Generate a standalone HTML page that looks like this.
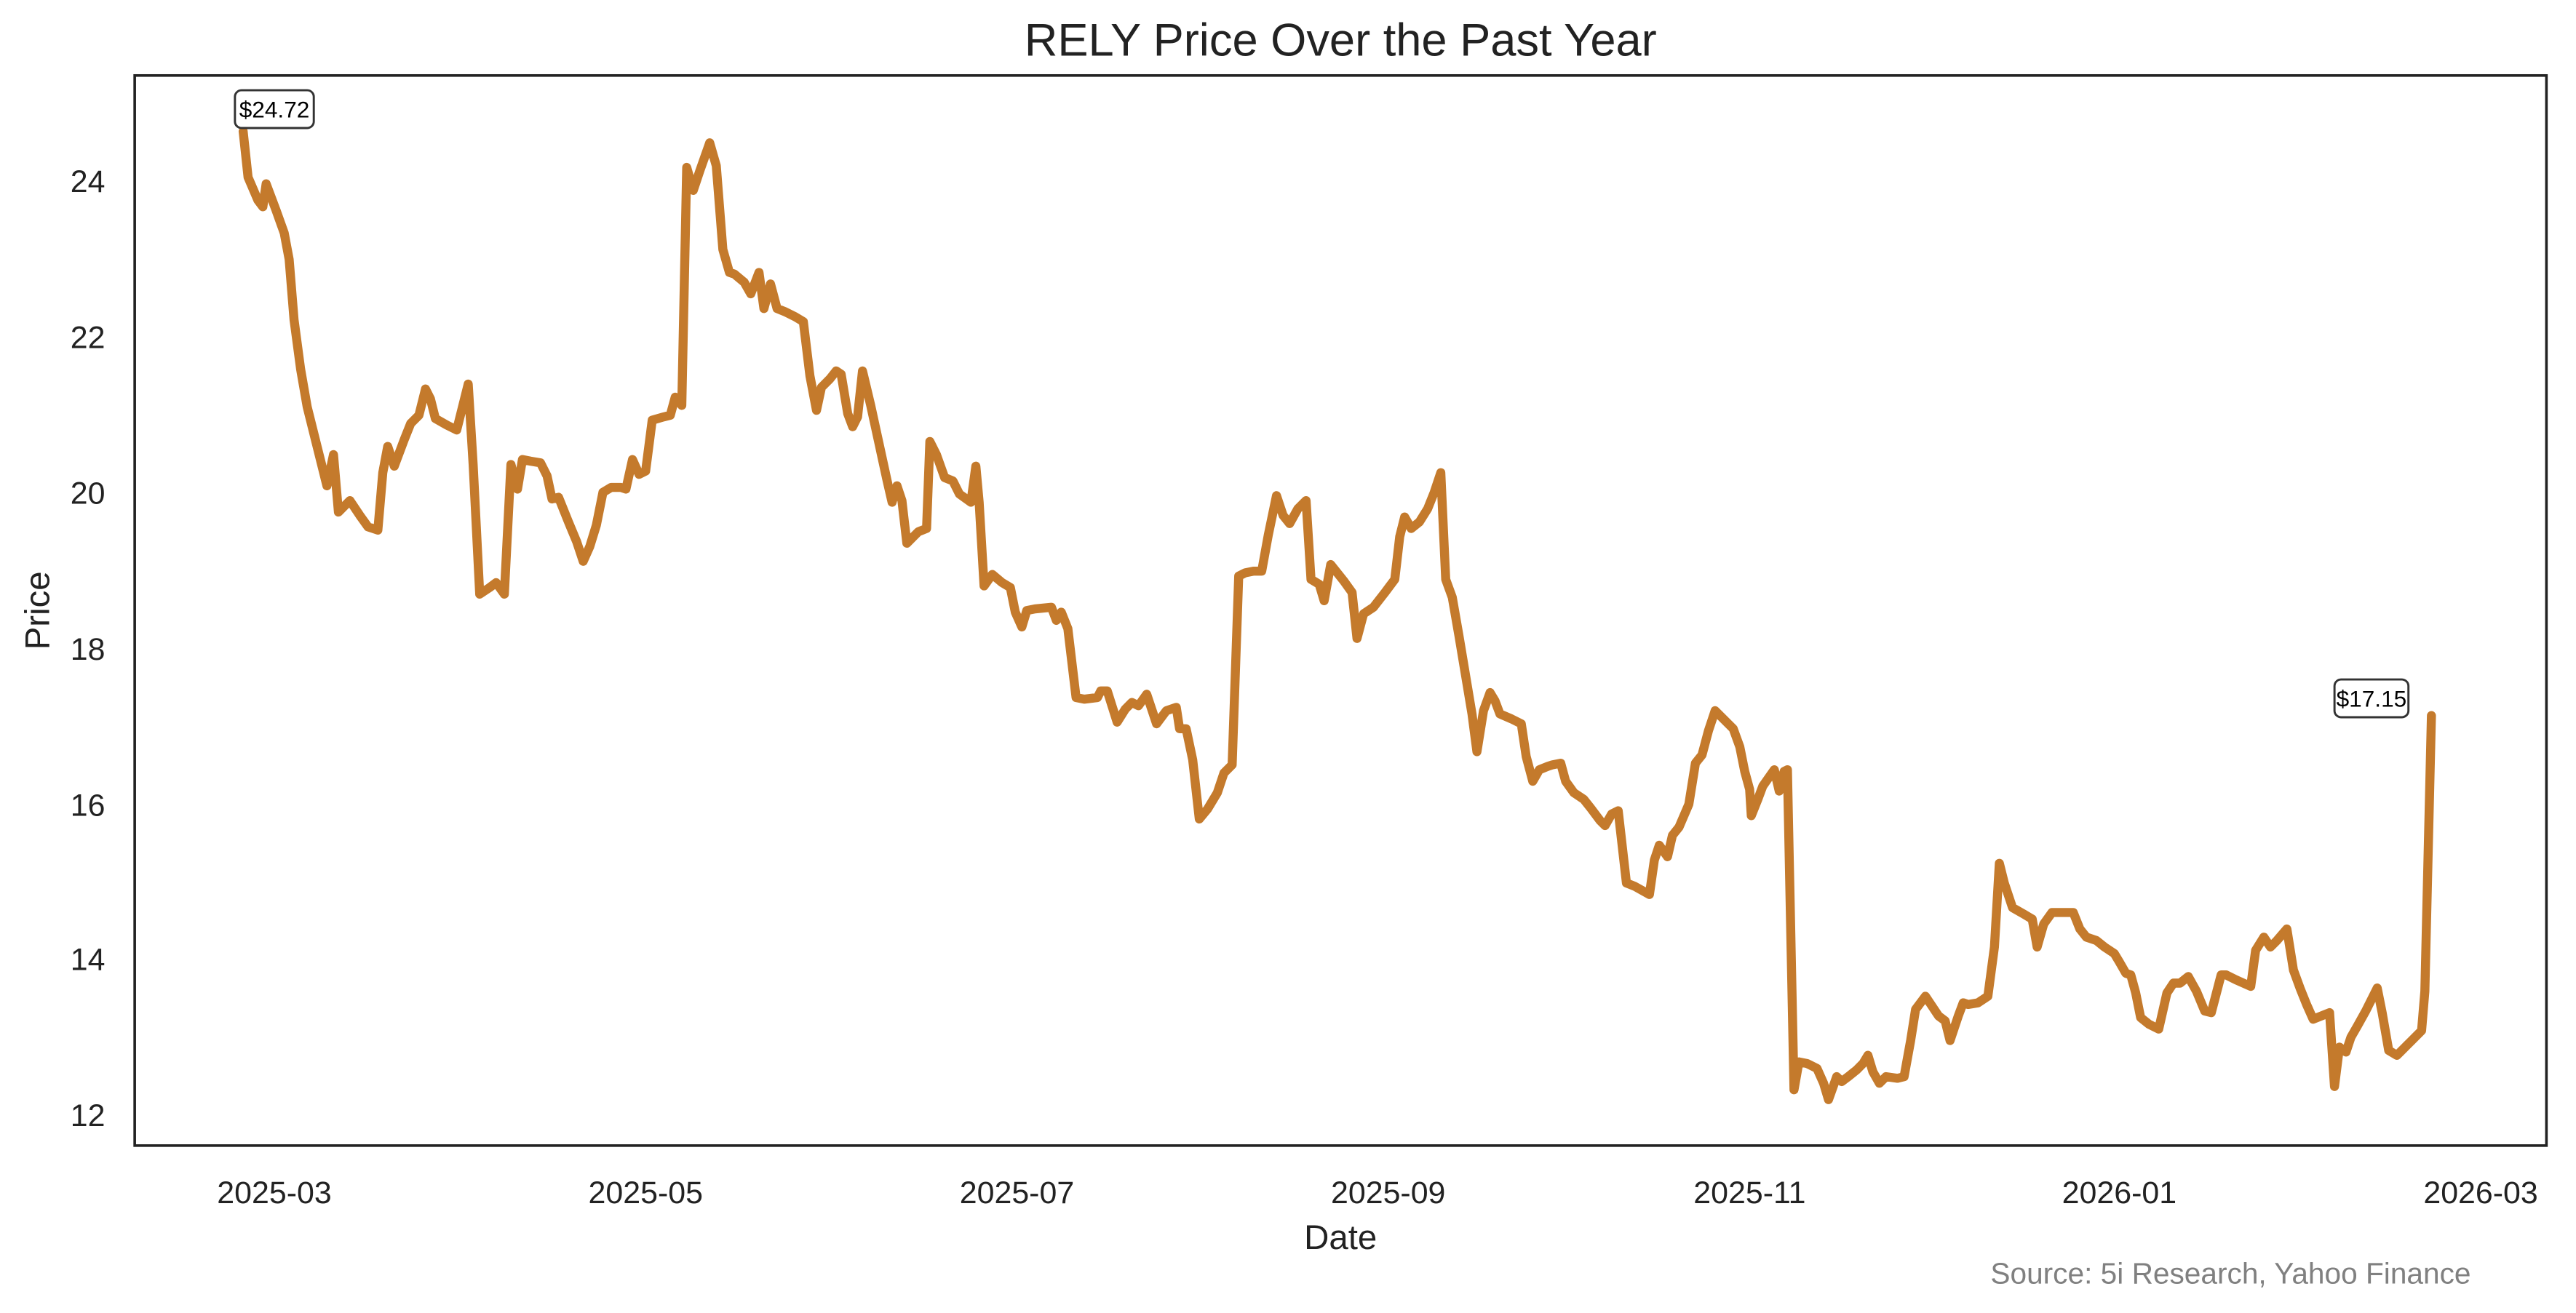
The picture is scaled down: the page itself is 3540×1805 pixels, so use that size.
<!DOCTYPE html>
<html><head><meta charset="utf-8"><style>html,body{margin:0;padding:0;background:#fff}svg{display:block}</style></head>
<body>
<svg width="3540" height="1805" viewBox="0 0 1568 800" preserveAspectRatio="none" xmlns="http://www.w3.org/2000/svg" font-family="Liberation Sans, Arial, sans-serif">
<rect width="1568" height="800" fill="#fff"/>
<text x="816" y="34" text-anchor="middle" font-size="28" fill="#222">RELY Price Over the Past Year</text>
<polyline fill="none" stroke="#c47a2c" stroke-width="5.5" stroke-linejoin="round" stroke-linecap="round" points="148,80 151,108 157,122 160,126 162,112 168,128 173,142 176,158 179,195 183,225 187,248 193,272 199,296 203,277 206,312 210,308 213,305 219,314 224,321 230,323 233,288 236,272 240,284 246,268 250,258 255,253 259,237 262,243 265,255 272,259 278,262 285,234 288,283 292,362 298,358 302,355 307,362 311,283 315,298 318,280 323,281 329,282 333,290 336,304 340,303 346,318 351,330 355,342 359,333 363,320 367,300 372,297 378,297 381,298 385,280 389,289 393,287 397,256 404,254 408,253 411,242 415,247 418,102 422,116 426,104 432,87 436,101 440,152 444,166 447,167 453,172 457,179 462,166 465,188 469,173 473,188 478,190 484,193 489,196 493,229 497,250 500,236 505,231 509,226 512,228 516,252 519,260 522,254 525,226 530,247 535,270 540,293 543,306 546,296 549,305 552,331 556,327 559,324 564,322 566,269 570,277 575,291 580,293 584,301 591,306 594,284 596,306 599,357 604,350 610,355 615,358 618,373 622,382 625,372 630,371 640,370 643,378 646,373 650,383 655,425 660,426 668,425 670,421 674,421 680,440 685,432 689,428 693,430 698,423 704,441 710,433 716,431 718,444 722,444 726,463 730,499 735,493 741,483 745,471 750,466 754,351 758,349 763,348 768,348 772,326 777,302 781,314 785,319 790,310 795,305 798,353 803,356 806,366 810,344 818,354 823,361 826,389 830,374 836,370 843,361 849,353 852,327 855,315 859,322 864,318 869,310 873,300 877,288 880,353 884,364 888,387 892,411 896,435 899,458 903,433 907,422 910,427 913,435 920,438 926,441 929,461 933,476 937,469 942,467 945,466 950,465 953,476 958,483 964,487 968,492 974,500 977,503 981,496 985,494 990,538 995,540 1004,545 1007,524 1010,515 1015,522 1018,509 1022,504 1028,490 1032,465 1036,460 1040,445 1044,433 1048,437 1055,444 1059,455 1062,470 1065,481 1066,497 1070,487 1073,479 1080,469 1083,482 1086,470 1088,469 1092,664 1095,647 1100,648 1106,651 1110,660 1113,670 1118,656 1121,659 1125,656 1130,652 1134,648 1137,643 1140,653 1144,660 1148,656 1155,657 1159,656 1163,634 1166,615 1172,607 1176,613 1180,619 1184,622 1187,634 1192,619 1195,611 1198,612 1204,611 1210,607 1214,577 1217,526 1220,538 1225,553 1232,557 1237,560 1240,577 1244,563 1249,556 1254,556 1262,556 1266,566 1270,571 1276,573 1281,577 1287,581 1290,586 1294,593 1297,594 1300,605 1303,620 1308,624 1314,627 1319,605 1323,599 1327,599 1332,595 1337,604 1342,616 1346,617 1352,594 1355,594 1361,597 1370,601 1373,579 1378,571 1382,577 1386,573 1392,566 1396,591 1400,602 1404,612 1408,621 1413,619 1418,617 1421,662 1424,638 1428,641 1431,632 1435,625 1440,616 1447,602 1450,617 1454,640 1459,643 1464,638 1468,634 1474,628 1476,604 1480,436"/>
<rect x="143" y="55" width="48" height="23" rx="4" fill="#fff" stroke="#333" stroke-width="1.3"/>
<text x="167" y="71.5" text-anchor="middle" font-size="14" fill="#000">$24.72</text>
<rect x="1421" y="414" width="45" height="23" rx="4" fill="#fff" stroke="#333" stroke-width="1.3"/>
<text x="1443.5" y="430.5" text-anchor="middle" font-size="14" fill="#000">$17.15</text>
<rect x="82" y="46" width="1468" height="652" fill="none" stroke="#222" stroke-width="1.6"/>
<g font-size="19" fill="#222" text-anchor="end">
<text x="64" y="117">24</text><text x="64" y="212">22</text><text x="64" y="307">20</text><text x="64" y="402">18</text><text x="64" y="497">16</text><text x="64" y="591">14</text><text x="64" y="686">12</text>
</g>
<g font-size="19" fill="#222" text-anchor="middle">
<text x="167" y="733">2025-03</text><text x="393" y="733">2025-05</text><text x="619" y="733">2025-07</text><text x="845" y="733">2025-09</text><text x="1065" y="733">2025-11</text><text x="1290" y="733">2026-01</text><text x="1510" y="733">2026-03</text>
</g>
<text x="816" y="761" text-anchor="middle" font-size="21" fill="#222">Date</text>
<text transform="translate(30,372) rotate(-90)" text-anchor="middle" font-size="21" fill="#222">Price</text>
<text x="1504" y="782" text-anchor="end" font-size="18" fill="#808080">Source: 5i Research, Yahoo Finance</text>
</svg>
</body></html>
